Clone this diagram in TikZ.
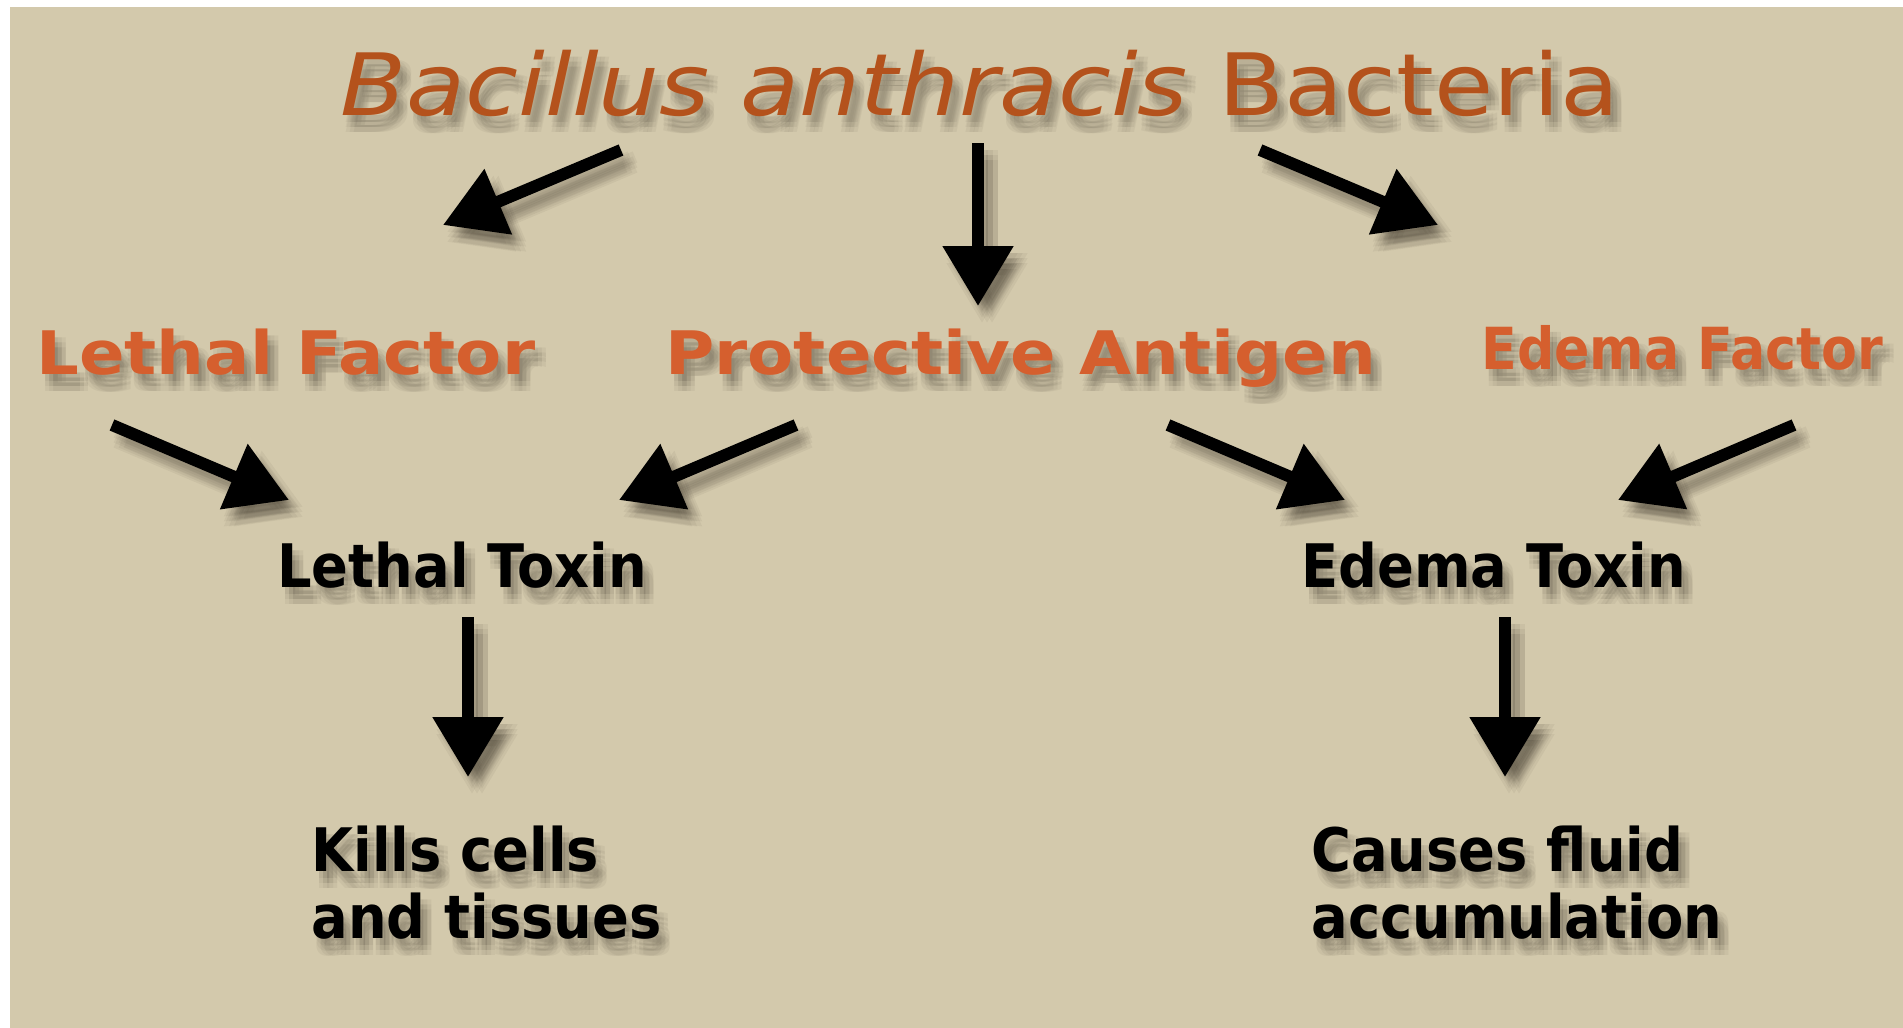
\documentclass[tikz,border=0pt]{standalone}
\usepackage{fontspec}
\setmainfont{DejaVu Sans}
\newfontfamily\ttlfont[FakeStretch=1.12]{DejaVu Sans}
\newfontfamily\orfont[FakeStretch=1.12]{DejaVu Sans}
\newfontfamily\orsfont[FakeStretch=0.90]{DejaVu Sans}
\newfontfamily\bkfont[FakeStretch=0.905]{DejaVu Sans}
\usetikzlibrary{arrows.meta,calc}
\definecolor{bgc}{HTML}{D3C9AC}
\definecolor{ttlc}{HTML}{B4521C}
\definecolor{orc}{HTML}{D55F2E}
\definecolor{shc}{HTML}{3A3328}
\newcommand\shtext[4]{%
  \foreach \dx in {3,7,11}{\foreach \dy in {7,12,17}{%
    \node[#3,text=shc,opacity=0.055] at ($(#2)+(\dx,\dy)$) {#4};}}
  \node[#3] (#1) at (#2) {#4};}
\newcommand\arrw[2]{%
  \foreach \dx in {4,9,14}{\foreach \dy in {7,12,17}{%
    \draw[arr,draw=shc,opacity=0.06] ($(#1)+(\dx,\dy)$) -- ($(#2)+(\dx,\dy)$);}}
  \draw[arr] (#1) -- (#2);}
\begin{document}
\begin{tikzpicture}[x=0.5pt,y=-0.5pt,
  arr/.style={line width=6pt,-{Triangle[width=34pt,length=30pt]}},
  ttl/.style={inner sep=0pt,anchor=base west,text=ttlc,font=\ttlfont\fontsize{43}{50}\selectfont},
  orl/.style={inner sep=0pt,anchor=base west,text=orc,font=\orfont\bfseries\fontsize{30}{36}\selectfont},
  ors/.style={orl,font=\orsfont\bfseries\fontsize{29}{34}\selectfont},
  bkl/.style={inner sep=0pt,anchor=base west,text=black,font=\bkfont\bfseries\fontsize{30}{33.5}\selectfont},
  bk2/.style={inner sep=0pt,anchor=north west,align=left,text=black,font=\bkfont\bfseries\fontsize{30}{33.5}\selectfont}]
\useasboundingbox (0,0) rectangle (1903,1028);
\fill[white] (0,0) rectangle (1903,1028);
\fill[bgc] (10,7) rectangle (1903,1028);
% positions
\coordinate (pT) at (340,115);
\coordinate (pLF) at (36,374);
\coordinate (pPA) at (665,374);
\coordinate (pEF) at (1481,369);
\coordinate (pLT) at (277,587);
\coordinate (pET) at (1301,587);
\coordinate (pK) at (311,826);
\coordinate (pC) at (1311,826);
% texts
\shtext{title}{pT}{ttl}{\itshape Bacillus anthracis\upshape{} Bacteria}
\shtext{lf}{pLF}{orl}{Lethal Factor}
\shtext{pa}{pPA}{orl}{Protective Antigen}
\shtext{ef}{pEF}{ors}{Edema Factor}
\shtext{lt}{pLT}{bkl}{Lethal Toxin}
\shtext{et}{pET}{bkl}{Edema Toxin}
\shtext{kc}{pK}{bk2}{Kills cells\\and tissues}
\shtext{cf}{pC}{bk2}{Causes fluid\\accumulation}
% arrow ends
\coordinate (a1s) at (621,150); \coordinate (a1e) at (443,225);
\coordinate (a2s) at (978,143); \coordinate (a2e) at (978,306);
\coordinate (a3s) at (1260,150); \coordinate (a3e) at (1438,225);
\coordinate (a4s) at (112,425); \coordinate (a4e) at (289,500);
\coordinate (a5s) at (796,425); \coordinate (a5e) at (619,500);
\coordinate (a6s) at (1168,425); \coordinate (a6e) at (1345,500);
\coordinate (a7s) at (1794,425); \coordinate (a7e) at (1618,500);
\coordinate (a8s) at (468,617); \coordinate (a8e) at (468,777);
\coordinate (a9s) at (1505,617); \coordinate (a9e) at (1505,777);
\arrw{a1s}{a1e}
\arrw{a2s}{a2e}
\arrw{a3s}{a3e}
\arrw{a4s}{a4e}
\arrw{a5s}{a5e}
\arrw{a6s}{a6e}
\arrw{a7s}{a7e}
\arrw{a8s}{a8e}
\arrw{a9s}{a9e}
\end{tikzpicture}
\end{document}
